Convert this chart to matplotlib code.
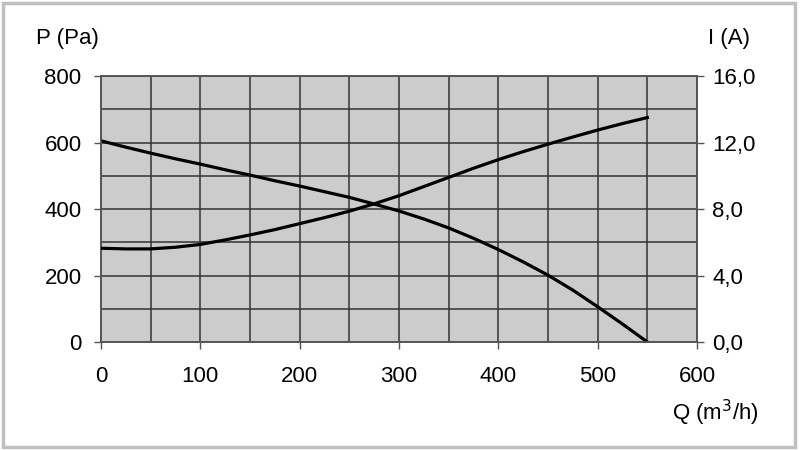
import matplotlib
matplotlib.use("Agg")
import matplotlib.pyplot as plt
from matplotlib.ticker import MultipleLocator, FuncFormatter
from matplotlib.patches import Rectangle

# flow rate Q (m3/h)
q = [0, 25, 50, 75, 100, 125, 150, 175, 200, 225, 250, 275,
     300, 325, 350, 375, 400, 425, 450, 475, 500, 525, 550]
# pressure P (Pa), left axis
pressure = [605, 586, 568, 551, 535, 518, 502, 485, 469, 452, 435, 415,
            394, 370, 343, 312, 278, 241, 201, 156, 106, 54, 0]
# current I (A), right axis
current = [5.64, 5.6, 5.6, 5.7, 5.87, 6.14, 6.44, 6.76, 7.12, 7.48, 7.87, 8.31,
           8.8, 9.35, 9.9, 10.45, 10.97, 11.45, 11.9, 12.33, 12.75, 13.14, 13.5]

plt.rcParams['font.family'] = ['Liberation Sans', 'DejaVu Sans']
fs = 16

fig = plt.figure(figsize=(8, 4.5), dpi=100)
ax = fig.add_axes([0.12625, 0.24, 0.745, 0.5911])
ax2 = ax.twinx()

ax.set_facecolor('#cccccc')
ax.plot(q, pressure, color='black', linewidth=2.3, zorder=3)
ax2.plot(q, current, color='black', linewidth=2.3, zorder=3)

ax.set_xlim(0, 600)
ax.set_ylim(0, 800)
ax2.set_ylim(0, 16)

ax.xaxis.set_major_locator(MultipleLocator(100))
ax.xaxis.set_minor_locator(MultipleLocator(50))
ax.yaxis.set_major_locator(MultipleLocator(200))
ax.yaxis.set_minor_locator(MultipleLocator(100))
ax2.yaxis.set_major_locator(MultipleLocator(4))
ax2.yaxis.set_major_formatter(FuncFormatter(lambda v, p: f"{v:.1f}".replace('.', ',')))

ax.grid(True, which='both', color='#333333', linewidth=1.1)
ax.set_axisbelow(True)

ax.tick_params(axis='x', which='major', direction='out', length=5, width=1,
               color='#555555', pad=12, labelsize=fs)
ax.tick_params(axis='y', which='major', direction='out', length=5, width=1,
               color='#555555', pad=9, labelsize=fs)
ax.tick_params(which='minor', length=0)
ax2.tick_params(axis='y', direction='out', length=5, width=1, color='#555555',
                pad=6, labelsize=fs)

for a in (ax, ax2):
    for s in a.spines.values():
        s.set_color('#555555')
        s.set_linewidth(1.2)

fig.text(0.045, 0.903, 'P (Pa)', fontsize=fs, ha='left', va='baseline')
fig.text(0.885, 0.903, 'I (A)', fontsize=fs, ha='left', va='baseline')
fig.text(0.84, 0.066, 'Q (m$^3$/h)', fontsize=fs, ha='left', va='baseline')

fig.patches.append(Rectangle((0.004, 0.007), 0.99, 0.986, transform=fig.transFigure,
                             fill=False, edgecolor='#c0c0c0', linewidth=2.5))

fig.savefig('out.png', dpi=100, facecolor='white')
